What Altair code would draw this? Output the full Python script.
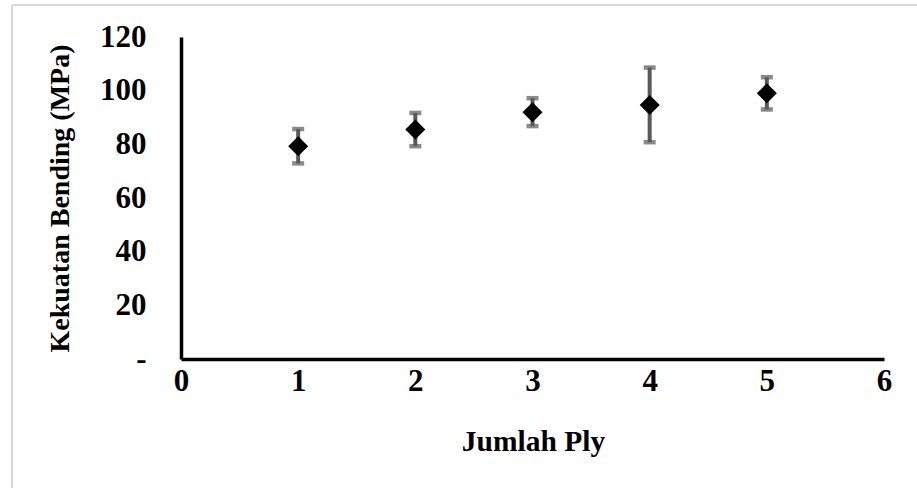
import altair as alt
import pandas as pd

ply = [1, 2, 3, 4, 5]
kekuatan = [79.3, 85.5, 92.0, 94.7, 99.0]
error = [6.4, 6.2, 5.2, 13.9, 6.0]

df = pd.DataFrame({"ply": ply, "kekuatan": kekuatan, "err": error})

FONT = "Liberation Serif"
LFS = 31
TFS = 28

base = alt.Chart(df).transform_calculate(
    lo="datum.kekuatan - datum.err",
    hi="datum.kekuatan + datum.err",
)

xs = alt.Scale(domain=[0, 6], nice=False)
ys = alt.Scale(domain=[0, 120], nice=False)

x_axis = alt.Axis(
    values=[0, 1, 2, 3, 4, 5, 6], format="d", grid=False, ticks=False,
    domainColor="black", domainWidth=3.5,
    labelFont=FONT, labelFontSize=LFS, labelFontWeight="bold", labelColor="black",
    labelPadding=7, labelBaseline="top", labelFlush=False,
    title="Jumlah Ply", titleFont=FONT, titleFontSize=29.5, titleFontWeight="bold",
    titleColor="black", titleX=352, titleY=82, titleBaseline="middle", titleAlign="center",
)
y_axis = alt.Axis(
    values=[0, 20, 40, 60, 80, 100, 120], format="d", grid=False, ticks=False,
    domainColor="black", domainWidth=3.5,
    labelFont=FONT, labelFontSize=LFS, labelFontWeight="bold", labelColor="black",
    labelPadding=35, labelBaseline="middle", labelFlush=False,
    labelExpr="datum.value == 0 ? '-' : datum.label",
    title="Kekuatan Bending (MPa)", titleFont=FONT, titleFontSize=TFS,
    titleFontWeight="bold", titleColor="black",
    titleX=-121, titleY=161, titleAngle=-90, titleBaseline="middle", titleAlign="center",
)

bars = base.mark_rule(color="#595959", strokeWidth=4).encode(
    x=alt.X("ply:Q", scale=xs, axis=x_axis),
    y=alt.Y("lo:Q", scale=ys, axis=y_axis),
    y2="hi:Q",
)
cap_lo = base.mark_tick(color="#595959", size=12, thickness=4.5, orient="horizontal").encode(
    x=alt.X("ply:Q", scale=xs), y=alt.Y("lo:Q", scale=ys)
)
cap_hi = base.mark_tick(color="#595959", size=12, thickness=4.5, orient="horizontal").encode(
    x=alt.X("ply:Q", scale=xs), y=alt.Y("hi:Q", scale=ys)
)
points = base.mark_point(shape="diamond", filled=True, color="black", size=400, opacity=1).encode(
    x=alt.X("ply:Q", scale=xs), y=alt.Y("kekuatan:Q", scale=ys)
)

border_top = alt.Chart(df).mark_rule(color="#d9d9d9", strokeWidth=2).encode(
    x=alt.value(-169), x2=alt.value(740), y=alt.value(-32)
)
border_left = alt.Chart(df).mark_rule(color="#d9d9d9", strokeWidth=2).encode(
    x=alt.value(-169), y=alt.value(-32), y2=alt.value(460)
)

chart = alt.layer(border_top, border_left, bars, cap_lo, cap_hi, points).properties(
    width=703, height=322,
    background="white",
    autosize=alt.AutoSizeParams(type="none"),
    padding={"left": 181, "top": 37, "right": 33, "bottom": 129},
).configure_view(strokeWidth=0)

chart.save("out.html", embed_options={"renderer": "svg", "actions": False})
